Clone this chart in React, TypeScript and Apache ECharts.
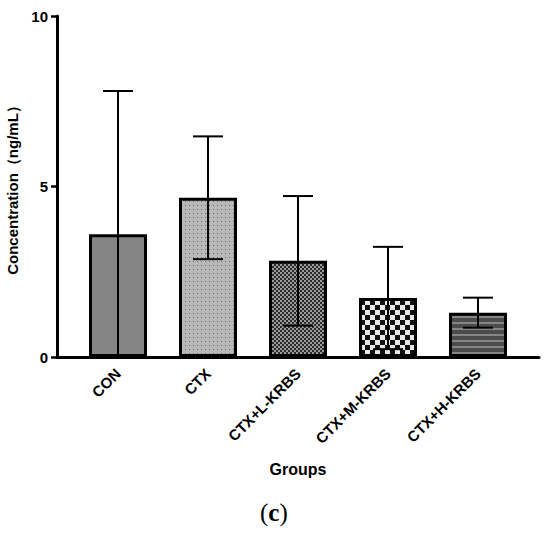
import React, { useEffect, useRef } from "react";
import * as echarts from "echarts";

const categories = ["CON", "CTX", "CTX+L-KRBS", "CTX+M-KRBS", "CTX+H-KRBS"];
const means = [3.6, 4.67, 2.82, 1.73, 1.3];
const sds = [4.2, 1.8, 1.9, 1.5, 0.44];
const yTicks = [0, 5, 10];

function makeCanvas(w: number, h: number, draw: (ctx: CanvasRenderingContext2D) => void) {
  const c = document.createElement("canvas");
  c.width = w;
  c.height = h;
  const ctx = c.getContext("2d")!;
  draw(ctx);
  return c;
}

function patterns() {
  const dots = makeCanvas(4, 4, (ctx) => {
    ctx.fillStyle = "#b8b8b8";
    ctx.fillRect(0, 0, 4, 4);
    ctx.fillStyle = "#6e6e6e";
    ctx.fillRect(1, 1, 1, 1);
  });
  const fine = makeCanvas(4, 4, (ctx) => {
    ctx.fillStyle = "#2a2a2a";
    ctx.fillRect(0, 0, 4, 4);
    ctx.fillStyle = "#9a9a9a";
    ctx.fillRect(0, 0, 2, 2);
    ctx.fillRect(2, 2, 2, 2);
  });
  const checker = makeCanvas(10, 10, (ctx) => {
    ctx.fillStyle = "#e8e8e8";
    ctx.fillRect(0, 0, 10, 10);
    ctx.fillStyle = "#111111";
    ctx.fillRect(0, 0, 5, 5);
    ctx.fillRect(5, 5, 5, 5);
  });
  const stripes = makeCanvas(4, 6, (ctx) => {
    ctx.fillStyle = "#4c4c4c";
    ctx.fillRect(0, 0, 4, 6);
    ctx.fillStyle = "#858585";
    ctx.fillRect(0, 4, 4, 2);
  });
  const p = (c: HTMLCanvasElement) => ({
    image: c,
    repeat: "repeat",
    imageWidth: c.width,
    imageHeight: c.height,
  });
  return ["#858585", p(dots), p(fine), p(checker), p(stripes)];
}

export default function App() {
  const ref = useRef<HTMLDivElement>(null);
  useEffect(() => {
    if (!ref.current) return;
    document.body.style.margin = "0";
    const chart = echarts.init(ref.current, null, { renderer: "svg" });
    const fills = patterns();
    const font = "Liberation Sans, Arial, sans-serif";
    chart.setOption({
      animation: false,
      backgroundColor: "#ffffff",
      grid: { left: 57, right: 11, top: 16, bottom: 186, outerBoundsMode: "none" },
      xAxis: {
        type: "value",
        min: -0.678,
        max: 4.678,
        name: "Groups",
        nameLocation: "middle",
        nameGap: 104,
        nameTextStyle: { fontFamily: font, fontWeight: "bold", fontSize: 16, color: "#000" },
        axisLine: { show: true, onZero: false, lineStyle: { color: "#000", width: 3 } },
        axisTick: { show: false },
        splitLine: { show: false },
        axisLabel: {
          customValues: [0, 1, 2, 3, 4],
          formatter: (v: number) => categories[Math.round(v)] ?? "",
          rotate: 45,
          margin: 14,
          fontFamily: font,
          fontWeight: "bold",
          fontSize: 15,
          color: "#000",
        },
      },
      yAxis: {
        type: "value",
        min: 0,
        max: 10,
        interval: 5,
        name: "Concentration（ng/mL）",
        nameLocation: "middle",
        nameGap: 32,
        nameTextStyle: { fontFamily: font, fontWeight: "bold", fontSize: 15, color: "#000" },
        axisLine: { show: true, onZero: false, lineStyle: { color: "#000", width: 3 } },
        axisTick: { show: true, length: 6, lineStyle: { color: "#000", width: 2.5 } },
        splitLine: { show: false },
        axisLabel: {
          margin: 9,
          fontFamily: font,
          fontWeight: "bold",
          fontSize: 15,
          color: "#000",
          formatter: (v: number) => (yTicks.includes(v) ? String(v) : ""),
        },
      },
      series: [
        {
          type: "bar",
          barWidth: 58,
          data: means.map((m, i) => ({
            value: [i, m],
            itemStyle: { color: fills[i], borderColor: "#000", borderWidth: 3 },
          })),
          z: 2,
        },
        {
          type: "custom",
          z: 5,
          data: means.map((m, i) => [i, Math.max(0, m - sds[i]), m + sds[i], m - sds[i] < 0 ? 1 : 0]),
          renderItem: (params: any, api: any) => {
            const x = api.value(0);
            const lo = api.value(1);
            const hi = api.value(2);
            const clipped = api.value(3);
            const pLo = api.coord([x, lo]);
            const pHi = api.coord([x, hi]);
            const half = 15;
            const style = { stroke: "#000", lineWidth: 2 };
            const children: any[] = [
              { type: "line", shape: { x1: pLo[0], y1: pLo[1], x2: pHi[0], y2: pHi[1] }, style },
              { type: "line", shape: { x1: pHi[0] - half, y1: pHi[1], x2: pHi[0] + half, y2: pHi[1] }, style },
            ];
            if (!clipped) {
              children.push({
                type: "line",
                shape: { x1: pLo[0] - half, y1: pLo[1], x2: pLo[0] + half, y2: pLo[1] },
                style,
              });
            }
            return { type: "group", children };
          },
        },
      ],
      graphic: [
        {
          type: "text",
          left: 260,
          top: 500,
          style: {
            text: "({c|c})",
            fontFamily: "Liberation Serif, DejaVu Serif, serif",
            fontSize: 25,
            fill: "#000",
            rich: {
              c: { fontFamily: "Liberation Serif, DejaVu Serif, serif", fontSize: 25, fontWeight: "bold", fill: "#000" },
            },
          },
        },
      ],
    });
    return () => chart.dispose();
  }, []);
  return <div ref={ref} style={{ width: 550, height: 543 }} />;
}
